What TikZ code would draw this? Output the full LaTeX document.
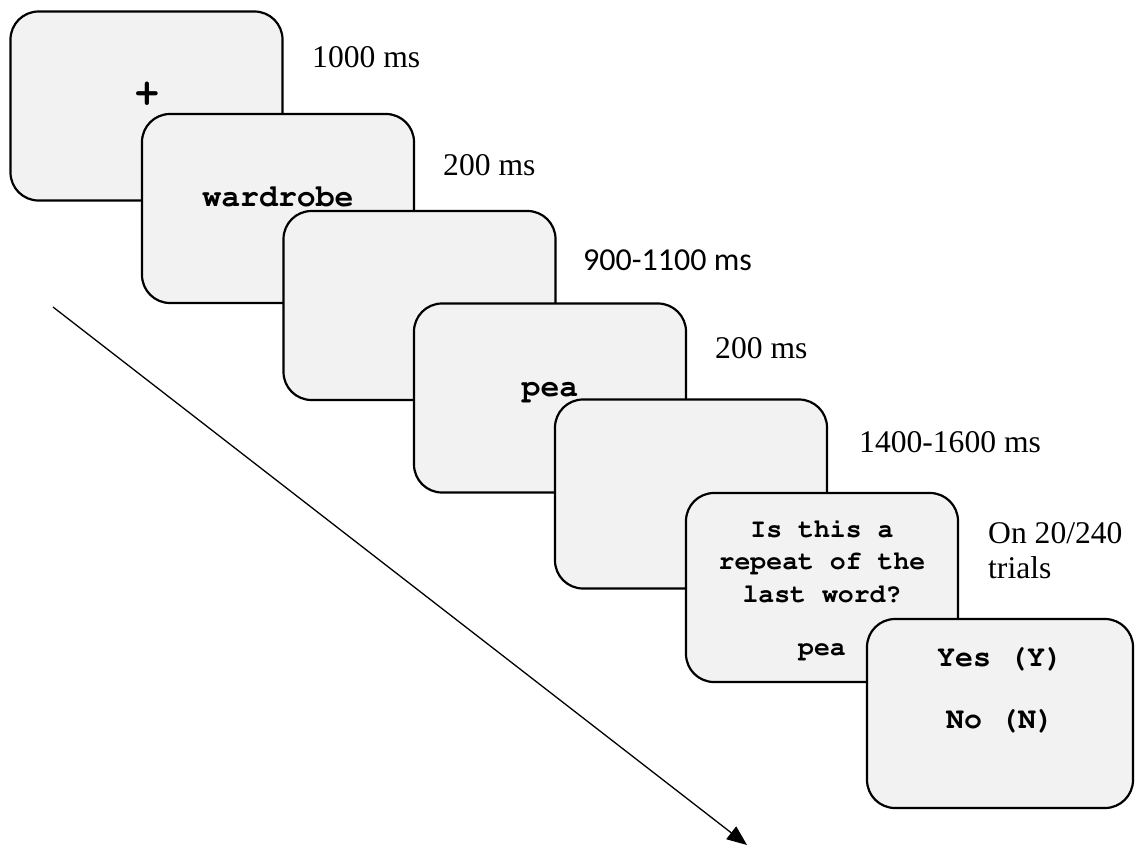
\documentclass[tikz,border=0pt]{standalone}
\usepackage[T1]{fontenc}
\usepackage{fontspec}
\setmainfont{Liberation Serif}
\newfontfamily\calibrifont{Carlito}
\newcommand{\courierbold}{\fontencoding{T1}\fontfamily{pcr}\fontseries{b}\selectfont}
\usetikzlibrary{arrows.meta}

\definecolor{screengray}{HTML}{F2F2F2}
\tikzset{
  screen/.style={draw=black, line width=2.2pt, fill=screengray,
    rounded corners=28pt, inner sep=0pt, minimum width=272pt, minimum height=189pt},
  stimbig/.style={inner sep=0pt, anchor=base, font=\courierbold\fontsize{31.5}{31.5}\selectfont},
  stimmid/.style={inner sep=0pt, anchor=base, font=\courierbold\fontsize{30}{30}\selectfont},
  stimsmall/.style={inner sep=0pt, anchor=base, font=\courierbold\fontsize{26.5}{26.5}\selectfont},
  fixcross/.style={inner sep=0pt, anchor=center, font=\courierbold\fontsize{42}{42}\selectfont},
  timing/.style={inner sep=0pt, anchor=base west, font=\fontsize{31.6}{31.6}\selectfont},
  timingcal/.style={inner sep=0pt, anchor=base west, font=\calibrifont\fontsize{32}{32}\selectfont},
}

\begin{document}
\begin{tikzpicture}[x=1pt, y=-1pt]
\useasboundingbox (0,0) rectangle (1135,846);

% fixation
\node[screen] (s1) at (146.5,106) {};
\node[fixcross] (fix) at (147,95) {+};

% first word
\node[screen] (s2) at (278,208.5) {};
\node[stimbig] (w1) at (278,206) {wardrobe};

% blank interval
\node[screen] (s3) at (419.5,305.5) {};

% second word
\node[screen] (s4) at (550,398) {};
\node[stimbig] (w2) at (550,396) {pea};

% blank interval
\node[screen] (s5) at (691,494) {};

% probe question
\node[screen] (s6) at (822,587.5) {};
\node[stimsmall] (q1) at (822,537) {Is this a};
\node[stimsmall] (q2) at (822,569) {repeat of the};
\node[stimsmall] (q3) at (822,602) {last word?};
\node[stimsmall] (q4) at (822,655) {pea};

% response options
\node[screen, minimum width=266pt] (s7) at (1000,713.5) {};
\node[stimmid] (yes) at (1000,666) {Yes (Y)};
\node[stimmid] (no) at (1000,728) {No (N)};

% durations
\node[timing] (d1) at (312,67) {1000 ms};
\node[timing] (d2) at (443,175) {200 ms};
\node[timingcal] (d3) at (583,270) {900-1100 ms};
\node[timing] (d4) at (715,358) {200 ms};
\node[timing] (d5) at (859,452) {1400-1600 ms};
\node[timing] (d6) at (988,543) {On 20/240};
\node[timing] (d7) at (988,578) {trials};

% time axis
\coordinate (tstart) at (53,307);
\coordinate (tend) at (747,845);
\draw[line width=1.3pt, -{Triangle[length=20pt, width=16pt]}] (tstart) -- (tend);
\end{tikzpicture}
\end{document}
